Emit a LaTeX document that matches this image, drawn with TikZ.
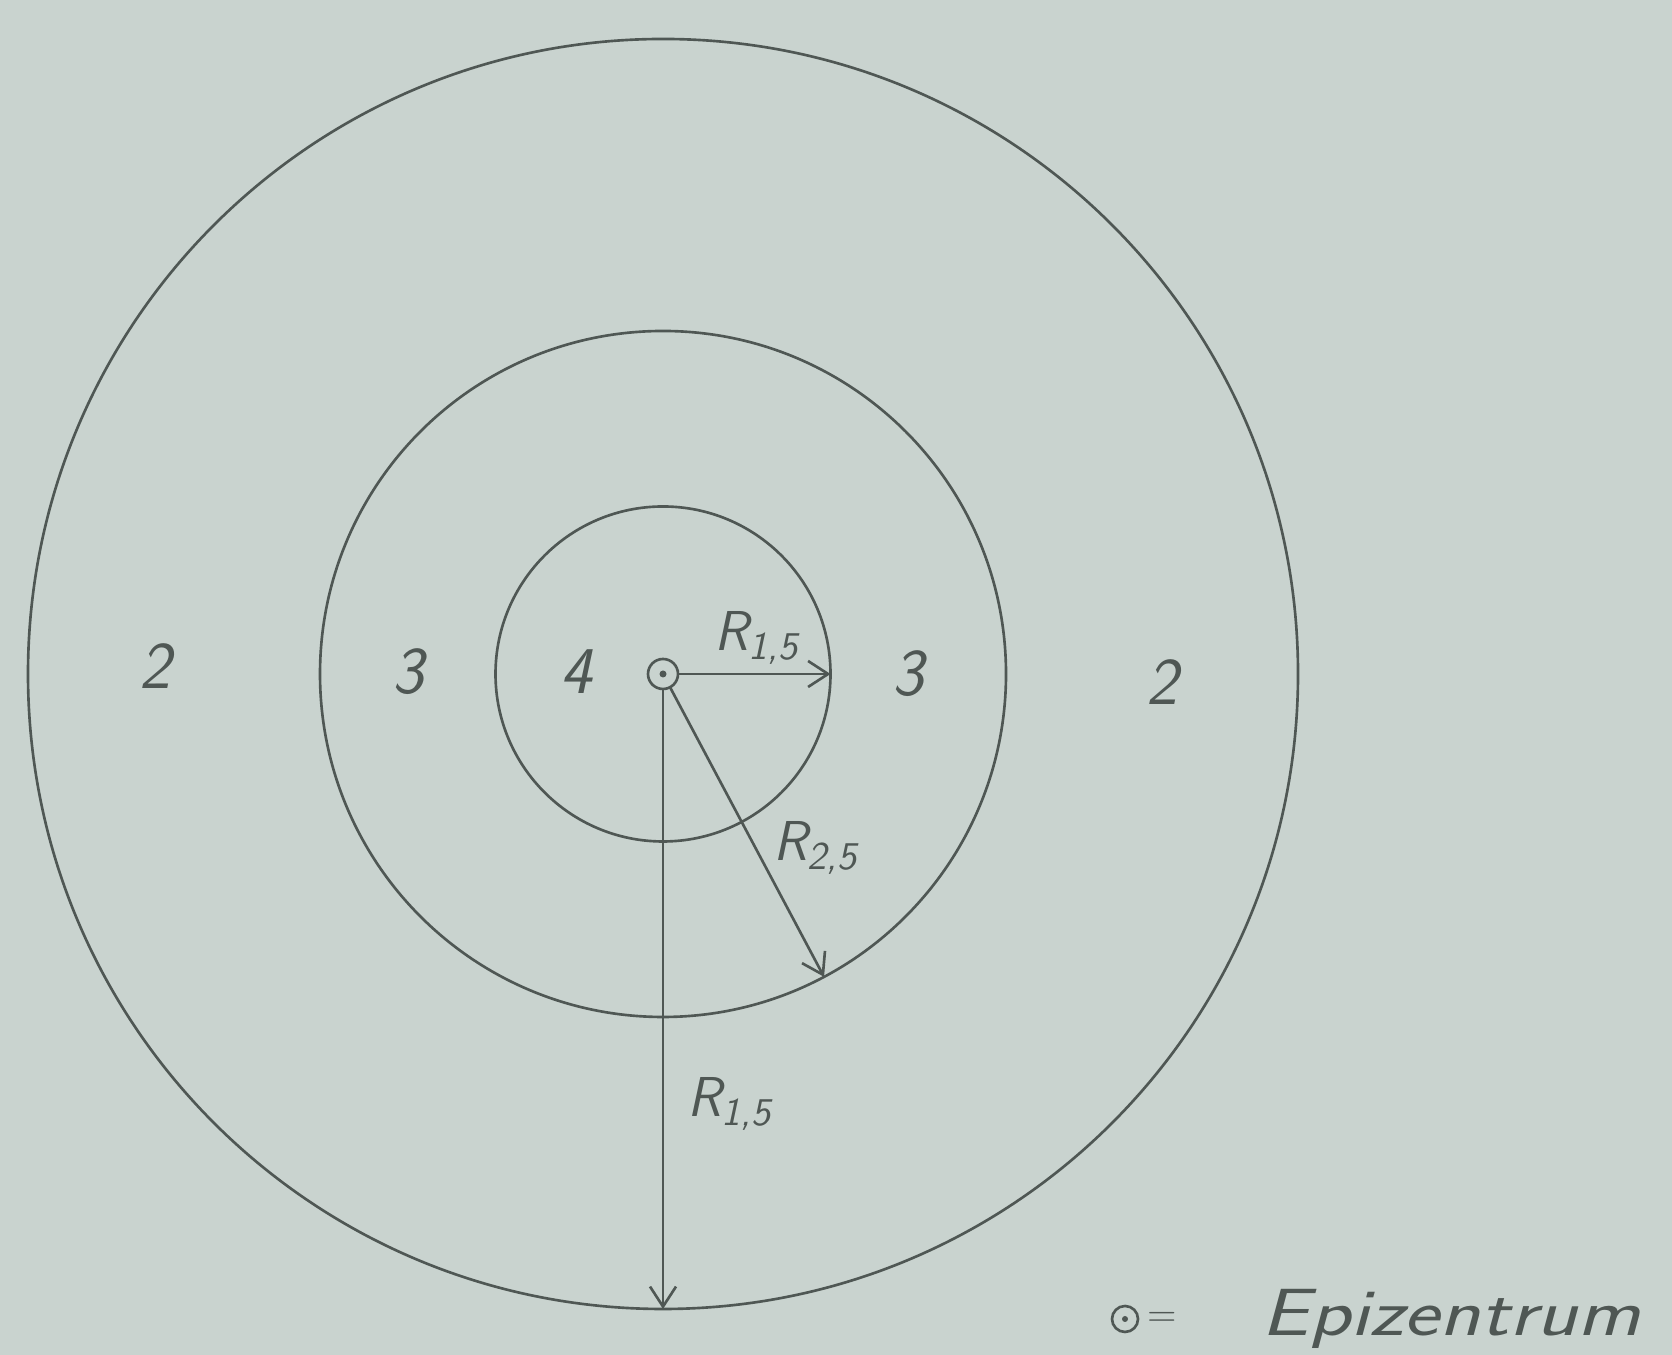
\documentclass[tikz,border=0pt]{standalone}
\usepackage{tikz}
\usetikzlibrary{arrows.meta,calc,positioning}
\definecolor{paper}{HTML}{C9D3CF}
\definecolor{pencil}{HTML}{4F5754}
\tikzset{
  ring/.style={circle,draw=pencil,line width=0.75pt,inner sep=0pt,outer sep=0pt},
  epibox/.style={circle,draw=pencil,line width=0.75pt,inner sep=0pt,outer sep=0pt,minimum size=3mm},
  radius/.style={-{Straight Barb[length=2mm,width=2.6mm]},line width=0.75pt,draw=pencil},
  zone/.style={font=\sffamily\itshape\fontsize{19}{22}\selectfont,text=pencil},
  rlabel/.style={font=\sffamily\itshape\fontsize{16}{19}\selectfont,text=pencil}
}
\begin{document}
\begin{tikzpicture}[x=1cm,y=1cm]
    \fill[paper] (0,0) rectangle (16.72,13.55);
    \useasboundingbox (0,0) rectangle (16.72,13.55);
    \def\cx{6.63}
    \def\cy{6.81}

    % isoseismal rings
    \node[ring,minimum size=3.35cm] (inner) at (\cx,\cy) {};
    \node[ring,minimum size=6.86cm] (middle) at (\cx,\cy) {};
    \node[ring,minimum size=12.70cm] (outer) at (\cx,\cy) {};

    % epicentre
    \node[epibox] (epi) at (\cx,\cy) {};
    \fill[pencil] (epi.center) circle (0.35mm);

    \draw[radius] (epi) -- (inner.east);
    \draw[radius] (epi) -- (middle.-62);
    \draw[radius] (epi) -- (outer.south);

    \node[zone] (z2l) at (1.55,6.89) {2};
    \node[zone] (z3l) at (4.08,6.83) {3};
    \node[zone] (z4) at (5.76,6.83) {4};
    \node[zone] (z3r) at (9.08,6.81) {3};
    \node[zone] (z2r) at (11.62,6.73) {2};

    \node[rlabel] (ra) at (7.57,7.17) {R\textsubscript{1,5}};
    \node[rlabel] (rb) at (8.16,5.07) {R\textsubscript{2,5}};
    \node[rlabel] (rc) at (7.30,2.51) {R\textsubscript{1,5}};

    % legend
    \node[epibox,minimum size=2.6mm] (key) at (11.25,0.36) {};
    \fill[pencil] (key.center) circle (0.3mm);
    \node[font=\sffamily\fontsize{11}{12}\selectfont,text=pencil] (eq) at (11.62,0.36) {=};
    \node[zone,anchor=west,xscale=1.27] (keytext) at (12.46,0.36) {Epizentrum};
  \end{tikzpicture}
\end{document}
